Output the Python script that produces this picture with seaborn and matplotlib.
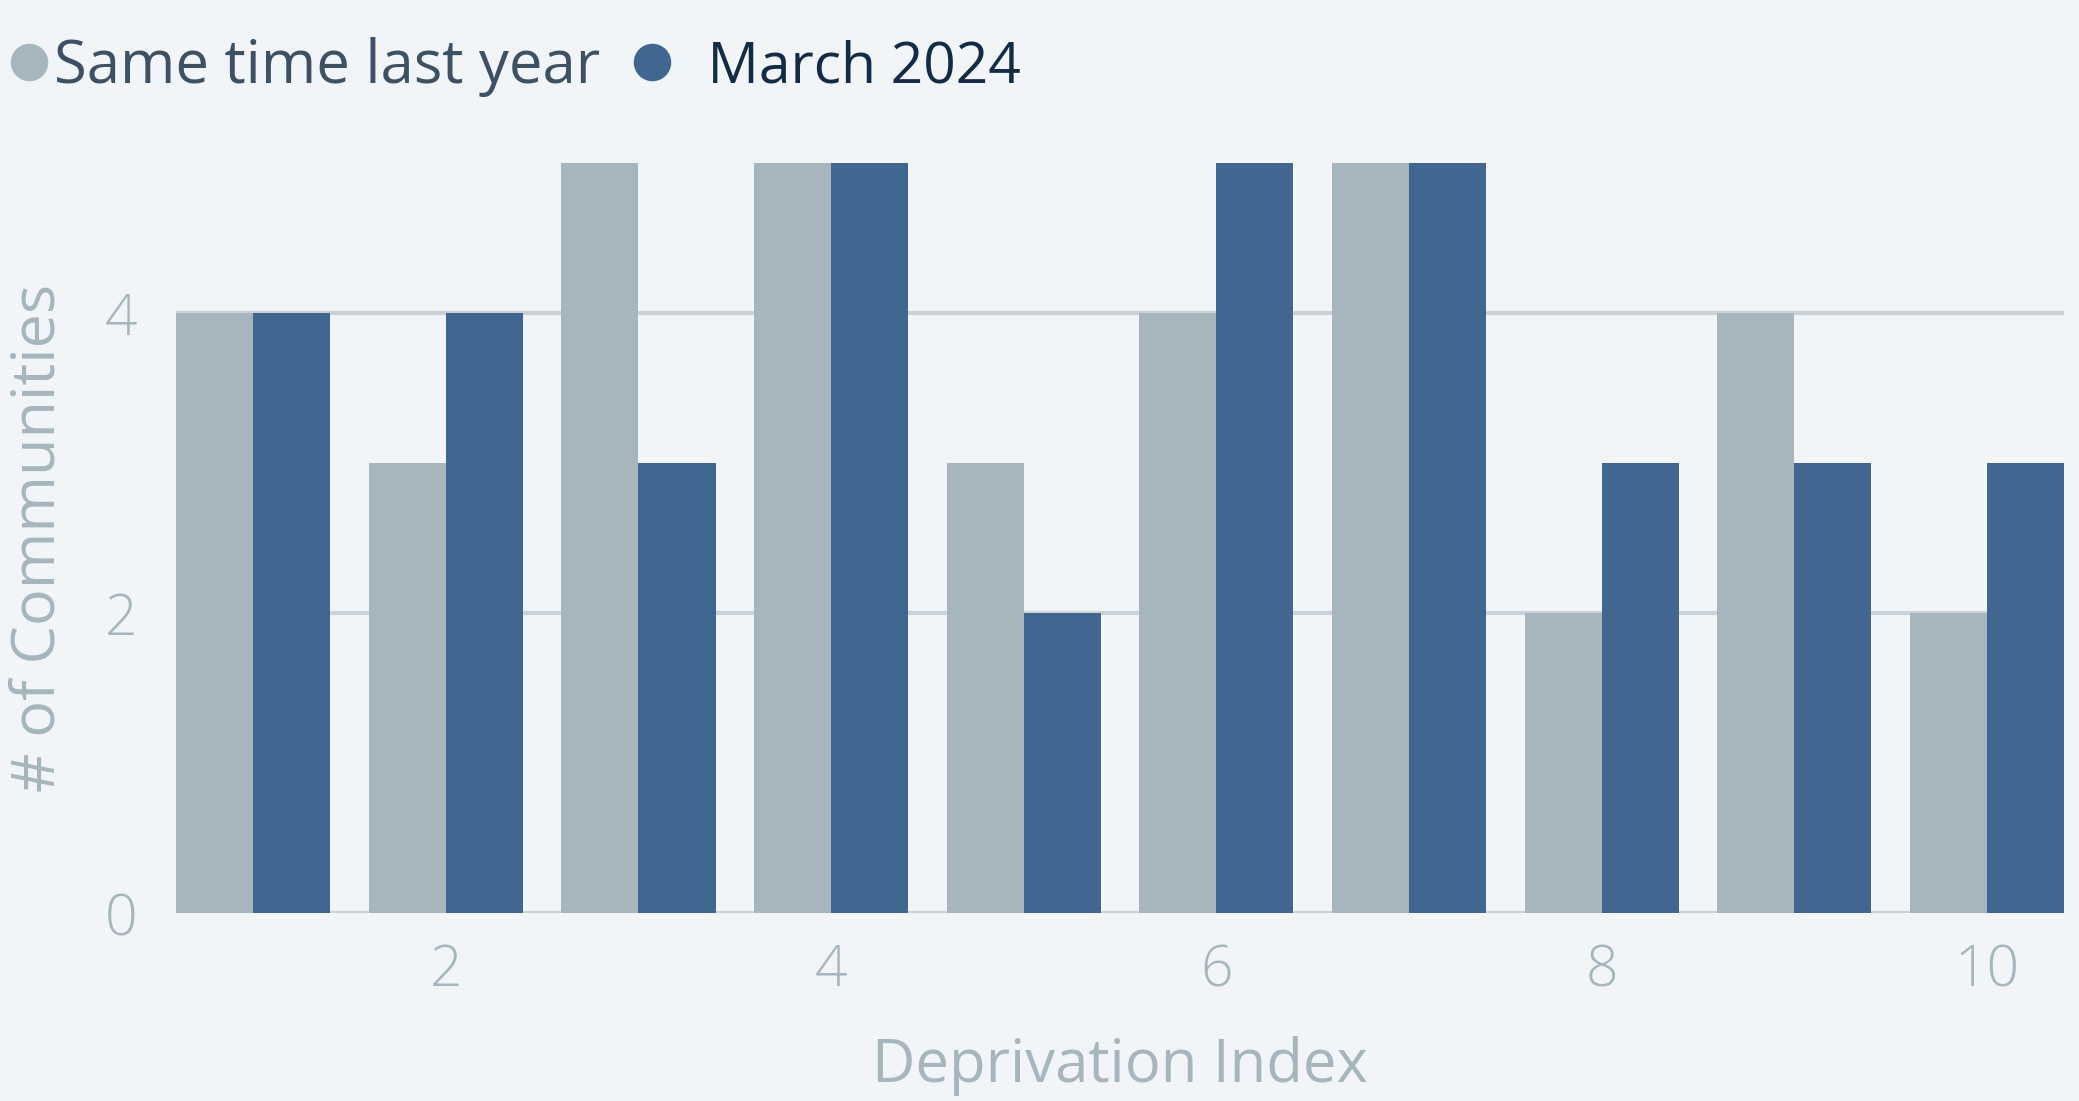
import pandas as pd
import numpy as np
import matplotlib.pyplot as plt
import seaborn as sns
from matplotlib.lines import Line2D

# data
deprivation_index = [1, 2, 3, 4, 5, 6, 7, 8, 9, 10]
last_year = [4, 3, 5, 5, 3, 4, 5, 2, 4, 2]
march_2024 = [4, 4, 3, 5, 2, 5, 5, 3, 3, 3]
series_names = ['Same time last year', 'March 2024']
x_tick_labels = ['2', '4', '6', '8', '10']
y_ticks = [0, 2, 4]

bg = '#F1F5F8'
gray = '#A7B5BD'
blue = '#41668F'
grid_col = '#CAD2D8'
label_col = '#A7B5BD'

sns.set_theme(style='white')
plt.rcParams['font.family'] = ['Open Sans', 'DejaVu Sans']

df = pd.DataFrame({
    'idx': deprivation_index * 2,
    'count': last_year + march_2024,
    'series': [series_names[0]] * 10 + [series_names[1]] * 10,
})

fig = plt.figure(figsize=(20.79, 11.01), dpi=100, facecolor=bg)
ax = fig.add_axes([0.0847, 0.1703, 0.9081, 0.6817])
ax.set_facecolor(bg)

sns.barplot(data=df, x='idx', y='count', hue='series', hue_order=series_names,
            palette=[gray, blue], width=0.8, saturation=1, ax=ax,
            legend=False, zorder=3, linewidth=0)

ax.set_xlim(-0.4, 9.4)
ax.set_ylim(0, 5)
ax.set_yticks(y_ticks)
ax.set_xticks([1, 3, 5, 7, 9])
ax.set_xticklabels(x_tick_labels)
ax.yaxis.grid(True, color=grid_col, linewidth=3, zorder=0)
ax.xaxis.grid(False)
for s in ax.spines.values():
    s.set_visible(False)
ax.tick_params(axis='both', length=0, labelsize=41, labelcolor=label_col)
ax.tick_params(axis='y', pad=28)
ax.tick_params(axis='x', pad=21)
for t in ax.get_xticklabels() + ax.get_yticklabels():
    t.set_fontweight('light')
ax.set_xlabel('Deprivation Index', fontsize=43, color=label_col, labelpad=26)
ax.set_ylabel('# of Communities', fontsize=44, color=label_col, labelpad=26)

# circle legend in the top-left corner
handles = [Line2D([], [], marker='o', linestyle='none', markersize=27,
                  markerfacecolor=c, markeredgewidth=0) for c in (gray, blue)]
leg = fig.legend(handles, ['Same time last year', '  March 2024'], loc='upper left',
                 bbox_to_anchor=(-0.020, 1.010), ncol=2, frameon=False, fontsize=43,
                 handletextpad=0.05, columnspacing=0.5, handlelength=0.75, borderpad=0.3)
leg.get_texts()[0].set_color('#3D5163')
leg.get_texts()[1].set_color('#132B45')
leg.get_texts()[1].set_fontsize(41)

fig.savefig('out.png', dpi=100, facecolor=bg)
